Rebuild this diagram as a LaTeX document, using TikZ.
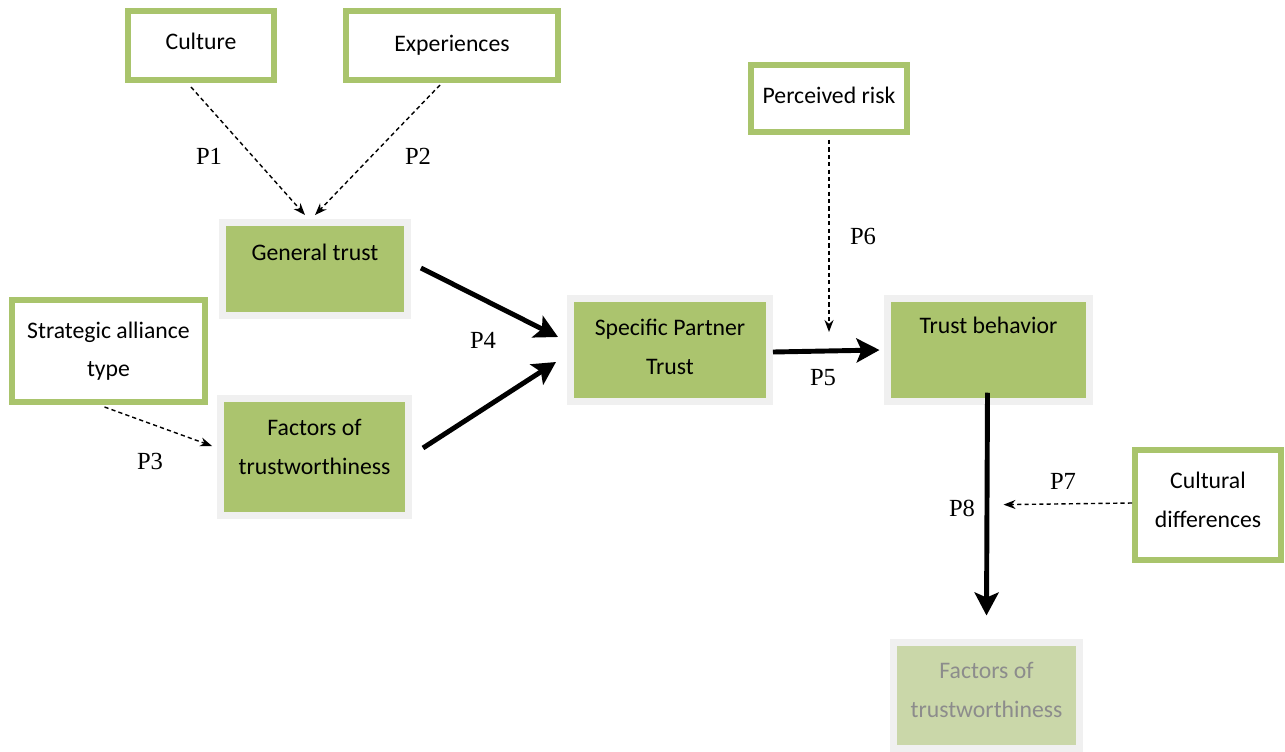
\documentclass[tikz,border=0pt]{standalone}
\usepackage{fontspec}
\setmainfont{Carlito}
\newfontfamily\propfont{Liberation Serif}
\usetikzlibrary{arrows.meta,calc,shadows}
\definecolor{boxgreen}{RGB}{169,196,108}
\definecolor{fillgreen}{RGB}{171,196,110}
\definecolor{framegray}{RGB}{240,240,240}
\definecolor{fadegreen}{RGB}{202,215,169}
\definecolor{fadetext}{RGB}{140,140,140}
\newcommand{\padbelow}[1]{\rule[-#1]{0pt}{0pt}}
\tikzset{
  wbox/.style={draw=boxgreen, line width=0.12cm, fill=white, align=center,
    inner sep=0pt, font=\fontsize{13.5}{22}\selectfont},
  gbox/.style={draw=framegray, line width=0.14cm, fill=fillgreen, align=center,
    inner sep=0pt, font=\fontsize{13.5}{22}\selectfont,
    drop shadow={opacity=0.18, shadow xshift=0.6pt, shadow yshift=-1.2pt}},
  fadebox/.style={gbox, fill=fadegreen, text=fadetext},
  dasharrow/.style={-{Stealth[length=2.4mm,width=1.8mm]}, line width=0.8pt,
    dash pattern=on 2.4pt off 1.8pt},
  thickarrow/.style={-{Stealth[length=4.6mm,width=4.8mm,inset=1mm]}, line width=2.8pt},
  plabel/.style={font=\propfont\fontsize{14}{16}\selectfont}
}
\begin{document}
\begin{tikzpicture}[x=0.02cm,y=-0.02cm]
  \useasboundingbox (0,0) rectangle (1285,751);
  % outer factors
  \node[wbox, minimum width=2.92cm, minimum height=1.38cm] (culture) at (201,45.5) {Culture\padbelow{4.6pt}};
  \node[wbox, minimum width=4.24cm, minimum height=1.38cm] (exper) at (452,45.5) {Experiences\padbelow{2.3pt}};
  \node[wbox, minimum width=3.12cm, minimum height=1.34cm] (risk) at (829,98.5) {Perceived risk\padbelow{3.4pt}};
  \node[wbox, minimum width=3.86cm, minimum height=2.04cm] (strat) at (108.5,351) {Strategic alliance\\type};
  \node[wbox, minimum width=2.92cm, minimum height=2.2cm] (cdiff) at (1208,505) {Cultural\\differences\padbelow{5.7pt}};
  % model boxes
  \node[gbox, minimum width=3.7cm, minimum height=1.86cm] (gtrust) at (315,269) {General trust\\[-10pt]\strut};
  \node[gbox, minimum width=3.76cm, minimum height=2.34cm] (factors) at (314.5,457) {Factors of\\trustworthiness\padbelow{11.4pt}};
  \node[gbox, minimum width=3.98cm, minimum height=2.05cm] (spt) at (670,350) {Specific Partner\\Trust\padbelow{3.4pt}};
  \node[gbox, minimum width=4.06cm, minimum height=2.05cm] (tbeh) at (988.5,350) {Trust behavior\\\strut};
  \node[fadebox, minimum width=3.74cm, minimum height=2.12cm] (outcome) at (986.5,695) {Factors of\\trustworthiness\padbelow{5.7pt}};
  % propositions
  \node[plabel] (p1) at (209,156) {P1};
  \node[plabel] (p2) at (418,156) {P2};
  \node[plabel] (p3) at (150,461) {P3};
  \node[plabel] (p4) at (483,340) {P4};
  \node[plabel] (p5) at (823,378) {P5};
  \node[plabel] (p6) at (863,236) {P6};
  \node[plabel] (p7) at (1063,481) {P7};
  \node[plabel] (p8) at (962,508) {P8};
  % moderating links
  \draw[dasharrow] ($(culture.south)+(-10,4)$) -- ($(gtrust.north)+(-10,-4)$);
  \draw[dasharrow] ($(exper.south)+(-12,2)$) -- ($(gtrust.north)+(0,-4)$);
  \draw[dasharrow] ($(strat.south)+(-4,2)$) -- ($(factors.west)+(-5,-11)$);
  \draw[dasharrow] ($(risk.south)+(0,5)$) -- ($(risk.south |- tbeh.center)+(0,-18)$);
  \coordinate (p8mid) at ($(tbeh.south)!0.5!(outcome.north)$);
  \draw[dasharrow] ($(cdiff.west)+(0,-2)$) -- ($(p8mid)+(16,-17)$);
  % main links
  \draw[thickarrow] ($(gtrust.east)+(10,-1)$) -- ($(spt.west)+(-9,-13)$);
  \draw[thickarrow] ($(factors.east)+(11,-9)$) -- ($(spt.west)+(-11,12)$);
  \draw[thickarrow] ($(spt.east)+(0,2)$) -- ($(tbeh.west)+(-4,0)$);
  \draw[thickarrow] ($(tbeh.south)+(-1,-12)$) -- ($(outcome.north)+(0,-23)$);
\end{tikzpicture}
\end{document}
